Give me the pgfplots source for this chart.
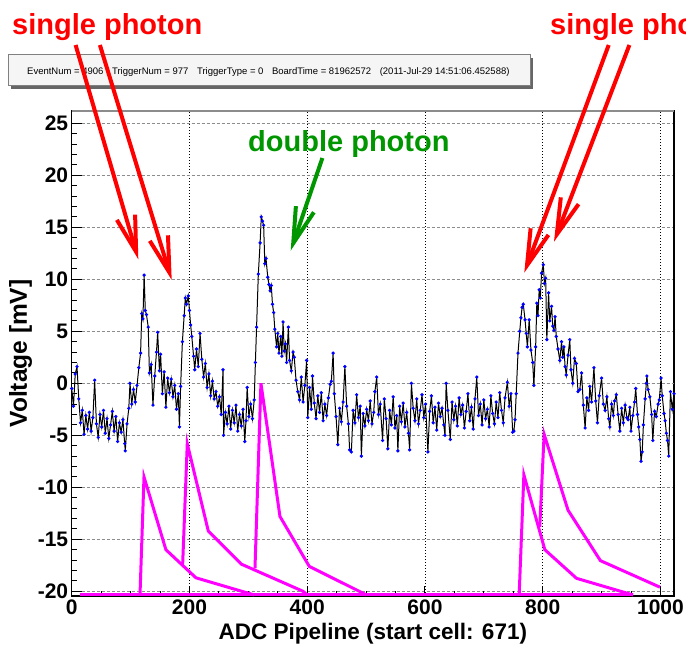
\documentclass[border=0pt]{standalone}
\usepackage{fontspec}
\setmainfont{Liberation Sans}
\usepackage{pgfplots}
\pgfplotsset{compat=1.18}
\usetikzlibrary{arrows.meta}

\definecolor{rootred}{RGB}{255,0,0}
\definecolor{rootgreen}{RGB}{0,150,0}
\definecolor{rootmag}{RGB}{255,0,255}

\begin{document}
\begin{tikzpicture}
\useasboundingbox (0,0) rectangle (686pt,645pt);
\clip (0,0) rectangle (686pt,645pt);
\begin{axis}[
  at={(71.7pt,49pt)}, anchor=south west,
  scale only axis, width=602.3pt, height=485pt,
  xmin=0, xmax=1023, ymin=-20.45, ymax=26.18,
  xtick={0,200,...,1000}, minor x tick num=3,
  ytick={-20,-15,...,25}, minor y tick num=4,
  tick pos=left, tick align=inside,
  major tick length=10pt, minor tick length=5pt,
  tick style={black, line width=1pt},
  axis line style={black, line width=1.5pt},
  grid=major,
  x grid style={black, line width=0.7pt, dash pattern=on 1pt off 2pt},
  y grid style={black!45, line width=0.8pt, dash pattern=on 3pt off 2pt},
  extra y ticks={0}, extra y tick labels={},
  extra y tick style={grid style={black!70, line width=2pt, solid}},
  ticklabel style={font=\fontsize{21}{21}\selectfont\bfseries},
  /pgf/number format/assume math mode=true,
  /pgf/number format/1000 sep={},
  xlabel={ADC Pipeline (start cell: 671)},
  ylabel={Voltage [mV]},
  xlabel style={font=\fontsize{22.5}{22.5}\selectfont\bfseries,
    at={(axis description cs:0.5,-0.0887)}, anchor=base},
  ylabel style={font=\fontsize{24.5}{24.5}\selectfont\bfseries,
    at={(axis description cs:-0.0745,0.5)}, anchor=base},
  clip=false,
]
% fitted single-photon templates
\addplot[rootmag, line width=3pt] coordinates {(14,-20.35) (953,-20.35)};
\addplot[rootmag, line width=3pt] coordinates {(116,-20.35) (122.8,-9.0) (160,-16.0) (211,-18.7) (310,-20.35)};
\addplot[rootmag, line width=3pt] coordinates {(188.4,-17.5) (196.3,-5.8) (232,-14.2) (288.6,-17.4) (393,-20.0) (400,-20.35)};
\addplot[rootmag, line width=3pt] coordinates {(311.3,-17.8) (321.4,0) (353.7,-12.8) (403.5,-17.6) (500.8,-20.35)};
\addplot[rootmag, line width=3pt] coordinates {(760,-20.35) (768,-8.8) (803.6,-16.0) (857.4,-18.75) (953.5,-20.35)};
\addplot[rootmag, line width=3pt] coordinates {(795,-13.8) (802.4,-4.9) (843,-12.2) (898,-17.05) (999,-19.6)};
% waveform
\addplot[black, line width=1pt, mark=*, mark size=1.1pt,
  mark options={draw=blue, fill=blue}] coordinates {
(0,-0.5) (3,-2.2) (6,0.9) (9,1.6) (12,-1.5) (15,-3.8) (18,-2.6) (21,-4.9) (24,-3.1) (27,-4.4)
(30,-2.8) (33,-4.6) (36,-3.3) (39,0.3) (42,-3.9) (45,-5.2) (48,-3.0) (51,-4.2) (54,-2.6) (57,-4.8)
(60,-3.4) (63,-5.3) (66,-4.0) (69,-2.7) (72,-4.6) (75,-3.2) (78,-5.6) (81,-3.8) (84,-4.7) (87,-3.5)
(90,-5.8) (91,-6.5) (94,-3.9) (97,-2.4) (99,0.0) (102,-2.0) (105,-0.6) (108,-1.8) (111,-0.2) (114,1.5)
(117,2.9) (119,6.7) (121,6.2) (123,10.4) (125,7.0) (127,6.6) (130,5.4) (132,1.0) (135,1.8) (138,-2.1)
(141,0.7) (144,3.0) (146,4.9) (149,1.2) (151,2.8) (154,-1.0) (157,1.1) (160,-2.3) (163,0.5) (166,-0.9)
(169,0.4) (172,-1.3) (175,-0.2) (178,-2.5) (181,-1.0) (183,-4.2) (185,-0.3) (188,4.0) (191,6.5) (193,8.2)
(195,7.6) (198,8.4) (200,7.0) (202,5.6) (204,4.5) (207,2.6) (209,1.3) (212,3.3) (215,1.6) (218,4.8)
(221,2.3) (224,0.6) (227,1.9) (230,-0.4) (233,0.9) (236,-1.2) (239,0.2) (242,-1.5) (245,-0.8) (248,-2.2)
(251,-1.3) (254,-3.0) (257,1.3) (258,-5.0) (261,-2.8) (264,-3.9) (267,-2.2) (270,-4.4) (273,-2.6) (276,-3.8)
(279,-2.1) (282,-4.6) (285,-3.0) (288,-4.1) (291,-2.5) (294,-5.6) (296,-3.6) (298,-0.4) (301,-3.2) (304,-2.0)
(307,-3.4) (310,-1.6) (312,2.0) (314,5.4) (317,10.5) (320,13.5) (322,16.0) (324,15.6) (326,15.2) (328,11.5)
(330,12.0) (333,10.2) (335,9.5) (337,8.9) (339,9.4) (341,7.6) (343,6.8) (345,5.2) (348,3.5) (350,4.8)
(352,2.9) (355,4.5) (357,2.6) (359,5.9) (361,3.1) (363,3.8) (365,2.0) (368,5.4) (370,2.2) (373,1.2)
(376,3.0) (378,2.5) (381,0.3) (384,-0.8) (387,-1.6) (390,0.6) (393,-1.8) (396,-0.2) (399,2.2) (401,-3.3)
(404,-0.4) (407,-2.5) (409,0.7) (412,-1.9) (415,-3.4) (418,-1.2) (421,-2.8) (424,-0.9) (427,-3.6) (430,-2.0)
(433,-3.1) (436,-1.4) (439,-0.1) (441,0.2) (444,2.9) (446,-1.0) (449,-3.2) (452,-5.9) (455,-2.4) (458,-3.7)
(461,-1.8) (464,1.6) (467,-2.2) (470,-3.9) (472,-6.4) (475,-6.6) (478,-2.6) (481,-3.8) (484,-1.1) (487,-3.3)
(490,-2.2) (492,-7.0) (495,-2.9) (498,-4.1) (501,-2.5) (504,-3.6) (507,-1.7) (510,-3.9) (513,-2.8) (515,-0.8)
(518,0.6) (521,-3.0) (524,-2.0) (528,-5.5) (531,-1.5) (534,-3.4) (537,-6.3) (540,-2.6) (543,-4.0) (546,-1.3)
(549,-4.3) (552,-3.1) (554,-6.5) (557,-2.2) (560,-3.7) (563,-1.9) (566,-4.2) (569,-2.8) (572,-4.8) (574,-6.4)
(577,0.0) (580,-2.4) (583,-3.6) (586,-1.5) (589,-3.9) (592,-2.6) (595,-1.1) (598,-3.3) (601,-2.0) (605,-6.6)
(608,-2.7) (611,-1.2) (614,-3.8) (617,-2.3) (620,-4.5) (623,-1.9) (626,-3.2) (629,-2.4) (632,-4.0) (634,-5.0)
(636,0.0) (639,-2.6) (643,-5.4) (646,-1.8) (649,-3.5) (652,-2.2) (655,-4.1) (658,-1.4) (661,-3.0) (664,-2.1)
(667,-4.3) (670,-2.7) (673,-1.0) (676,-3.6) (679,-2.3) (682,-4.4) (685,-1.5) (688,0.6) (691,-3.1) (694,-2.0)
(697,-4.0) (700,-1.6) (703,-3.4) (706,-2.5) (709,-4.2) (712,-1.2) (715,-2.9) (718,-3.9) (721,-1.8) (724,-3.3)
(727,-0.9) (730,-2.6) (733,-3.8) (736,-1.4) (740,0.1) (743,-2.2) (746,-1.0) (749,-4.7) (751,-4.6) (753,-3.5)
(755,-1.0) (758,2.9) (761,5.0) (763,6.3) (765,7.3) (767,7.6) (770,6.1) (772,4.8) (774,3.5) (777,6.1)
(780,3.2) (783,2.0) (785,-0.2) (788,3.5) (790,7.7) (792,6.5) (794,9.0) (796,8.2) (798,10.6) (801,11.4)
(803,9.6) (805,10.1) (807,4.2) (810,8.7) (812,6.0) (815,7.4) (817,5.5) (819,5.1) (821,6.4) (823,4.5)
(826,3.3) (829,2.2) (832,4.0) (834,2.5) (836,3.5) (838,1.6) (840,0.8) (843,2.7) (846,4.2) (848,1.3)
(851,0.0) (854,2.4) (857,1.9) (860,-0.8) (863,-0.6) (866,1.0) (869,-2.1) (872,-4.3) (875,-1.4) (878,-2.6)
(880,-0.3) (883,-1.8) (887,1.5) (890,-1.7) (893,-3.8) (896,-1.2) (900,0.5) (903,-2.0) (906,-2.6) (909,-1.3)
(912,-3.4) (914,-4.2) (917,-2.0) (920,-3.1) (922,-1.7) (925,-1.1) (928,-3.0) (931,-4.6) (934,-2.4) (937,-3.8)
(940,-2.1) (943,-3.3) (945,-3.5) (948,-2.3) (950,-4.6) (953,-3.1) (956,-1.8) (958,-0.5) (961,-3.0) (963,-4.2)
(965,-5.4) (967,-7.5) (969,-6.6) (971,-4.0) (974,-1.5) (976,0.0) (977,0.7) (979,-0.6) (982,-1.3) (985,-3.0)
(987,-5.5) (990,-2.7) (993,-3.2) (996,-2.0) (998,-1.6) (1001,0.5) (1003,-1.2) (1006,-2.9) (1008,-3.6) (1010,-4.8)
(1012,-5.5) (1014,-7.0) (1017,-0.8) (1020,-2.5) (1023,-1.0)
};
\draw[black!45, line width=2pt] (rel axis cs:0,1) -- (rel axis cs:1,1);
\end{axis}
% annotations, in pixel units measured from the top left corner
\begin{scope}[x=1pt, y=-1pt, shift={(0pt,645pt)}]
\fill[black!60] (11,58) rectangle (533,89);
\draw[black!50, fill=black!4, line width=1pt] (8,55) rectangle (530,86);
\node[anchor=base west, inner sep=0pt, font=\fontsize{9.5}{10}\selectfont]
  at (27,75) {EventNum = 4906\hspace{0.9em}TriggerNum = 977\hspace{0.9em}TriggerType = 0\hspace{0.9em}BoardTime = 81962572\hspace{0.9em}(2011-Jul-29 14:51:06.452588)};
\node[anchor=base west, inner sep=0pt, text=rootred, font=\fontsize{29}{29}\selectfont\bfseries]
  at (12,35) {single photon};
\node[anchor=base west, inner sep=0pt, text=rootred, font=\fontsize{29}{29}\selectfont\bfseries]
  at (550,35) {single photon};
\node[anchor=base west, inner sep=0pt, text=rootgreen, font=\fontsize{29}{29}\selectfont\bfseries]
  at (248,152) {double photon};
\draw[rootred, line width=4pt, -{Straight Barb[length=36pt,width=19pt]}] (75.6,45) -- (138.3,259.3);
\draw[rootred, line width=4pt, -{Straight Barb[length=36pt,width=19pt]}] (99.9,45) -- (171.7,280);
\draw[rootred, line width=4pt, -{Straight Barb[length=36pt,width=19pt]}] (608.7,45) -- (524.3,272.7);
\draw[rootred, line width=4pt, -{Straight Barb[length=36pt,width=19pt]}] (629.4,45) -- (554,241.7);
\draw[rootgreen, line width=4pt, -{Straight Barb[length=36pt,width=19pt]}] (322.4,158) -- (290.7,250.7);
\end{scope}
\end{tikzpicture}
\end{document}
